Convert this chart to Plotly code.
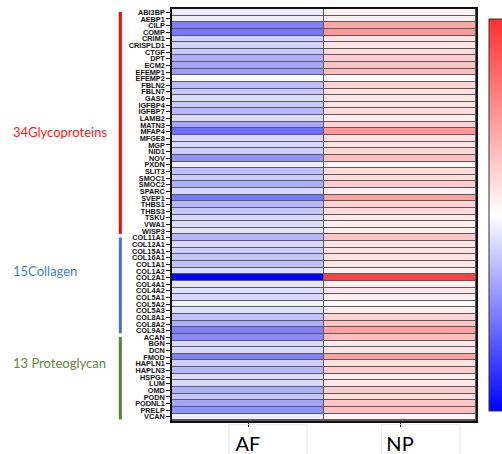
import plotly.graph_objects as go

genes = ["ABI3BP","AEBP1","CILP","COMP","CRIM1","CRISPLD1","CTGF","DPT","ECM2","EFEMP1",
         "EFEMP2","FBLN2","FBLN7","GAS6","IGFBP4","IGFBP7","LAMB2","MATN3","MFAP4","MFGE8",
         "MGP","NID1","NOV","PXDN","SLIT3","SMOC1","SMOC2","SPARC","SVEP1","THBS1",
         "THBS3","TSKU","VWA1","WISP3",
         "COL11A1","COL12A1","COL15A1","COL16A1","COL1A1","COL1A2","COL2A1","COL4A1","COL4A2",
         "COL5A1","COL5A2","COL5A3","COL8A1","COL8A2","COL9A3",
         "ACAN","BGN","DCN","FMOD","HAPLN1","HAPLN3","HSPG2","LUM","OMD","PODN","PODNL1",
         "PRELP","VCAN"]
samples = ["AF", "NP"]

af = [-0.10,-0.10,-0.70,-0.75,-0.25,-0.25,-0.30,-0.45,-0.50,-0.55,
      -0.03,-0.38,-0.30,-0.20,-0.30,-0.40,-0.20,-0.50,-0.80,-0.22,
      -0.22,-0.28,-0.60,-0.10,-0.35,-0.28,-0.45,-0.22,-0.75,-0.40,
      -0.32,-0.22,-0.20,-0.15,
      -0.42,-0.22,-0.28,-0.32,-0.35,-0.20,-1.42,-0.15,-0.18,
      -0.22,-0.06,-0.18,-0.35,-0.45,-0.72,
      -0.65,-0.22,-0.22,-0.70,-0.28,-0.40,-0.20,-0.22,-0.45,-0.32,-0.50,
      -0.60,-0.10]
npv = [0.08,0.10,0.60,0.70,0.20,0.17,0.25,0.35,0.40,0.45,
       0.03,0.30,0.20,0.17,0.20,0.25,0.12,0.30,0.70,0.20,
       0.20,0.28,0.45,0.07,0.25,0.25,0.35,0.12,0.65,0.30,
       0.25,0.15,0.10,0.12,
       0.40,0.17,0.20,0.20,0.17,0.12,1.30,0.12,0.15,
       0.12,0.05,0.12,0.30,0.40,0.65,
       0.45,0.15,0.17,0.65,0.20,0.35,0.12,0.17,0.35,0.25,0.40,
       0.45,0.07]

groups = [("34Glycoproteins", 0, 33, "#ff1a1a", "#ff0000", 18.1),
          ("15Collagen", 34, 48, "#3f7fce", "#4472c4", 39.0),
          ("13 Proteoglycan", 49, 61, "#5a8a3a", "#548235", 52.9)]

z = [[a, b] for a, b in zip(af, npv)]

fig = go.Figure(go.Heatmap(
    z=z, x=samples, y=genes,
    zmin=-1.42, zmax=1.42,
    colorscale=[[0, "#0000ff"], [0.5, "#ffffff"], [1, "#ff3030"]],
    xgap=1, ygap=1,
    hoverinfo="skip",
    colorbar=dict(x=1.043, xanchor="left", xpad=0, y=0.5, yanchor="middle",
                  lenmode="pixels", len=412, thickness=20,
                  outlinecolor="#333333", outlinewidth=1,
                  tickvals=[-1, 0, 1], ticks="inside", ticklen=3,
                  tickcolor="#333333", showticklabels=False),
))

shapes = []
annotations = []
for name, r0, r1, tcol, bcol, ypos in groups:
    shapes.append(dict(type="line", xref="paper", yref="y",
                       x0=-0.17, x1=-0.17, y0=r0 - 0.05, y1=r1 + 0.4,
                       line=dict(color=bcol, width=3)))
    annotations.append(dict(text=name, xref="paper", yref="y", x=-0.53, y=ypos,
                            xanchor="left", yanchor="middle", showarrow=False,
                            font=dict(family="Lato, Open Sans, sans-serif", size=13, color=tcol)))

# faint text boxes around column labels
for xc in [0.187, 0.69]:
    shapes.append(dict(type="rect", xref="paper", yref="paper",
                       x0=xc, x1=xc + 0.257, y0=-0.009, y1=-0.09,
                       line=dict(color="#e6e6e6", width=1), fillcolor="rgba(0,0,0,0)"))

fig.update_layout(
    width=502, height=454,
    margin=dict(l=172, r=26, t=9, b=33, autoexpand=False),
    paper_bgcolor="white", plot_bgcolor="#5a5a5a",
    shapes=shapes, annotations=annotations,
    xaxis=dict(side="bottom", showline=True, mirror=True, linecolor="#111111", linewidth=1.5,
               ticks="outside", ticklen=4, tickcolor="#111111", automargin=False,
               tickfont=dict(family="Lato, Open Sans, sans-serif", size=20, color="black"),
               showgrid=False, zeroline=False),
    yaxis=dict(autorange="reversed", showline=True, mirror=True, linecolor="#111111", linewidth=1.5,
               ticks="outside", ticklen=4, tickcolor="#111111", tickwidth=1, automargin=False,
               tickfont=dict(family="Liberation Sans, Arial, sans-serif", size=7.3, color="#111111",
                             weight="bold"),
               showgrid=False, zeroline=False, dtick=1),
)

fig.write_html("out.html")
